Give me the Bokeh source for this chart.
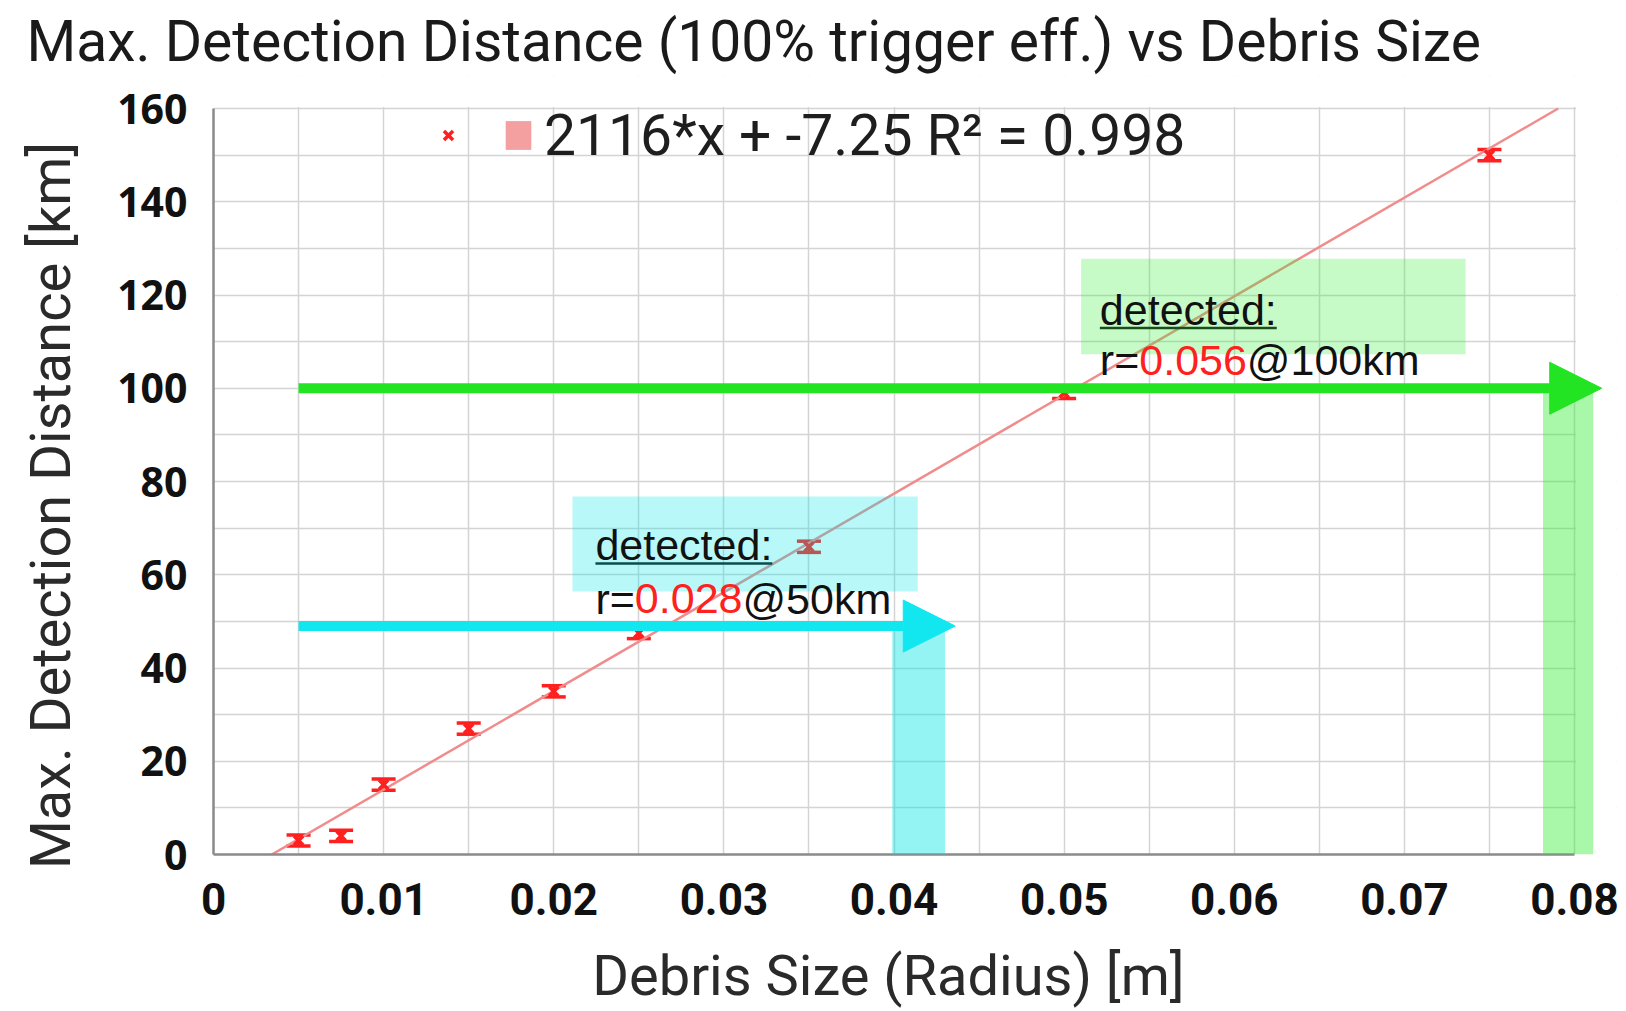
from bokeh.plotting import figure
from bokeh.models import (Range1d, FixedTicker, SingleIntervalTicker, Whisker, TeeHead, Arrow,
                          NormalHead, BoxAnnotation, Label, Legend, LegendItem, ColumnDataSource,
                          CustomJSTickFormatter, Title)
from bokeh.core.properties import value
from bokeh.embed import file_html
from bokeh.resources import INLINE

# ---------------- data ----------------
radius = [0.005, 0.0075, 0.01, 0.015, 0.02, 0.025, 0.035, 0.05, 0.075]
distance = [3.0, 4.0, 15.0, 27.0, 35.0, 47.5, 66.0, 99.0, 150.0]
distance_err = [1.2, 1.2, 1.2, 1.2, 1.2, 1.2, 1.2, 1.2, 1.2]

fit_slope = 2116.0
fit_intercept = -7.25
fit_r2 = 0.998

x_ticks = [0, 0.01, 0.02, 0.03, 0.04, 0.05, 0.06, 0.07, 0.08]
y_ticks = [0, 20, 40, 60, 80, 100, 120, 140, 160]

title_text = "Max. Detection Distance (100% trigger eff.) vs Debris Size"
x_label_text = "Debris Size (Radius) [m]"
y_label_text = "Max. Detection Distance [km]"

# detection annotations (cyan: 50 km, green: 100 km)
det_labels_km = ["50km", "100km"]
det_radius = ["0.028", "0.056"]
det_arrow_y = [49, 100]
det_arrow_x0 = [0.005, 0.005]
det_arrow_x1 = [0.0436, 0.0816]
det_box_left = [0.0211, 0.0510]
det_box_right = [0.0414, 0.0736]
det_box_bottom = [56.4, 107.3]
det_box_top = [76.8, 127.8]
det_bar_left = [0.0399, 0.07815]
det_bar_right = [0.0430, 0.0811]
det_text_x = [0.02245, 0.0521]
det_text_y1 = [66.3, 116.7]
det_text_y2 = [54.9, 106.0]
det_underline_y = [62.4, 112.9]
det_arrow_color = ["#12e6ee", "#22e422"]
det_box_color = ["#00e5e5", "#33ee33"]

# ---------------- layout (pixels) ----------------
W, H = 1626, 1011
FL, FR, FT, FB = 213, 1574, 108, 854      # visible chart area (x 0..0.08, y 0..160)
X0, X1, Y0, Y1 = 0, 0.08, 0, 160
px_per_x = (FR - FL) / (X1 - X0)
px_per_y = (FB - FT) / (Y1 - Y0)
# the Bokeh frame is a bit larger (right and top) so the 100 km marker and the legend text
# can overhang the visible chart area; the overhang is blanked below
FR_EXT, FT_EXT = 1616, 75
X1_EXT = X1 + (FR_EXT - FR) / px_per_x
Y1_EXT = Y1 + (FT - FT_EXT) / px_per_y

p = figure(width=W, height=H, x_range=Range1d(X0, X1_EXT), y_range=Range1d(Y0, Y1_EXT),
           output_backend="svg", toolbar_location=None, title_location=None,
           min_border_left=FL, min_border_right=W - FR_EXT, min_border_top=FT_EXT,
           min_border_bottom=H - FB)

p.add_layout(Title(text=title_text, text_font="Roboto", text_font_size="57px",
                   text_font_style="normal", text_color="#1a1a1a", align="left",
                   offset=26 - FL, standoff=2), "above")

p.background_fill_color = "white"
p.border_fill_color = "white"
p.outline_line_color = None

p.xaxis.ticker = FixedTicker(ticks=x_ticks)
p.xaxis.formatter = CustomJSTickFormatter(code="return tick == 0 ? '0' : tick.toFixed(2);")
p.xaxis.bounds = (X0, X1)
p.yaxis.ticker = FixedTicker(ticks=y_ticks)
p.yaxis.bounds = (Y0, Y1)
p.xgrid.ticker = SingleIntervalTicker(interval=0.005)
p.ygrid.ticker = SingleIntervalTicker(interval=10)
for g in (p.xgrid, p.ygrid):
    g.grid_line_color = "#d4d4d4"
    g.grid_line_width = 1.5

for ax in (p.xaxis, p.yaxis):
    ax.major_tick_line_color = None
    ax.minor_tick_line_color = None
    ax.axis_line_color = "#8a8a8a"
    ax.axis_line_width = 2.5
    ax.major_label_text_color = "#111111"
    ax.major_label_text_font_style = "bold"
    ax.axis_label_text_font = "Roboto"
    ax.axis_label_text_font_style = "normal"
    ax.axis_label_text_font_size = "56px"
    ax.axis_label_text_color = "#2a2a2a"

NB = "\u00a0"
p.xaxis.major_label_text_font = "Roboto"
p.xaxis.major_label_text_font_size = "44px"
p.xaxis.major_label_standoff = 22
# trailing no-break spaces re-centre the label on the visible chart area
p.xaxis.axis_label = x_label_text + NB * 3 + "\u2009"
p.xaxis.axis_label_standoff = 25

p.yaxis.major_label_text_font = "Open Sans"
p.yaxis.major_label_text_font_size = "41px"
p.yaxis.major_label_standoff = 20
p.yaxis.axis_label = y_label_text + NB * 5 + "\u2009"
p.yaxis.axis_label_standoff = 30

# blank out the frame extension beyond x = 0.08 and above y = 160
p.add_layout(BoxAnnotation(left=X1 + 1.5 / px_per_x, fill_color="white", fill_alpha=1,
                           line_color=None, level="underlay"))
p.add_layout(BoxAnnotation(bottom=Y1 + 1.5 / px_per_y, fill_color="white", fill_alpha=1,
                           line_color=None, level="underlay"))

# ---------------- fit line ----------------
fit_x = [(Y0 - fit_intercept) / fit_slope, (Y1 - fit_intercept) / fit_slope]
fit_y = [fit_slope * v + fit_intercept for v in fit_x]
p.line(fit_x, fit_y, line_color="#f08c8c", line_width=2.5)

# ---------------- data points with error bars ----------------
src = ColumnDataSource(dict(
    x=radius, y=distance,
    upper=[d + e for d, e in zip(distance, distance_err)],
    lower=[d - e for d, e in zip(distance, distance_err)],
))
red = "#ff1f1f"
p.add_layout(Whisker(source=src, base="x", upper="upper", lower="lower", dimension="height",
                     line_color=red, line_width=2.5,
                     upper_head=TeeHead(size=24, line_color=red, line_width=3.5),
                     lower_head=TeeHead(size=24, line_color=red, line_width=3.5)))
pts = p.scatter("x", "y", source=src, marker="x", size=13, line_color=red, line_width=3.5)

# legend swatch for the trendline: a zero-area quad at the fit line's end point
sq = p.quad(left=[fit_x[1]], right=[fit_x[1]], top=[fit_y[1]], bottom=[fit_y[1]],
            fill_color="#f5a0a0", line_color=None)

legend = Legend(items=[LegendItem(label=value(""), renderers=[pts]),
                       LegendItem(label=value("%d*x + %s R² = %s" % (fit_slope, fit_intercept, fit_r2)),
                                  renderers=[sq])],
                orientation="horizontal", location=(219, 684),
                label_text_font="Roboto", label_text_font_size="57px", label_text_color="#1e1e1e",
                glyph_width=32, glyph_height=36, label_standoff=10, spacing=8, label_width=20,
                label_height=70, padding=0, margin=0, background_fill_alpha=0, border_line_alpha=0)
p.add_layout(legend)

# ---------------- detection annotations ----------------
for i in range(2):
    p.add_layout(BoxAnnotation(left=det_box_left[i], right=det_box_right[i],
                               bottom=det_box_bottom[i], top=det_box_top[i],
                               fill_color=det_box_color[i], fill_alpha=0.28, line_color=None))
    p.add_layout(BoxAnnotation(left=det_bar_left[i], right=det_bar_right[i],
                               bottom=Y0, top=det_arrow_y[i],
                               fill_color=det_box_color[i], fill_alpha=0.42, line_color=None))

TF = "Liberation Sans"
TS = 43
for i in range(2):
    p.add_layout(Label(x=det_text_x[i], y=det_text_y1[i], text="detected:", text_font=TF,
                       text_font_size="%dpx" % TS, text_color="#111111", text_baseline="alphabetic"))
    ul_w = 4.114 * TS / px_per_x
    p.segment(x0=[det_text_x[i]], y0=[det_underline_y[i]], x1=[det_text_x[i] + ul_w],
              y1=[det_underline_y[i]], line_color="#111111", line_width=2.5)
    off1 = 0.917 * TS
    off2 = off1 + 2.502 * TS
    p.add_layout(Label(x=det_text_x[i], y=det_text_y2[i], text="r=", text_font=TF,
                       text_font_size="%dpx" % TS, text_color="#111111", text_baseline="alphabetic"))
    p.add_layout(Label(x=det_text_x[i], y=det_text_y2[i], x_offset=off1, text=det_radius[i],
                       text_font=TF, text_font_size="%dpx" % TS, text_color="#ff2020",
                       text_baseline="alphabetic"))
    p.add_layout(Label(x=det_text_x[i], y=det_text_y2[i], x_offset=off2, text="@" + det_labels_km[i],
                       text_font=TF, text_font_size="%dpx" % TS, text_color="#111111",
                       text_baseline="alphabetic"))

for i in range(2):
    c = det_arrow_color[i]
    p.add_layout(Arrow(x_start=det_arrow_x0[i], y_start=det_arrow_y[i],
                       x_end=det_arrow_x1[i], y_end=det_arrow_y[i],
                       line_color=c, line_width=10,
                       end=NormalHead(size=52, fill_color=c, line_color=c, line_width=1)))

open("out.html", "w").write(file_html(p, INLINE))
